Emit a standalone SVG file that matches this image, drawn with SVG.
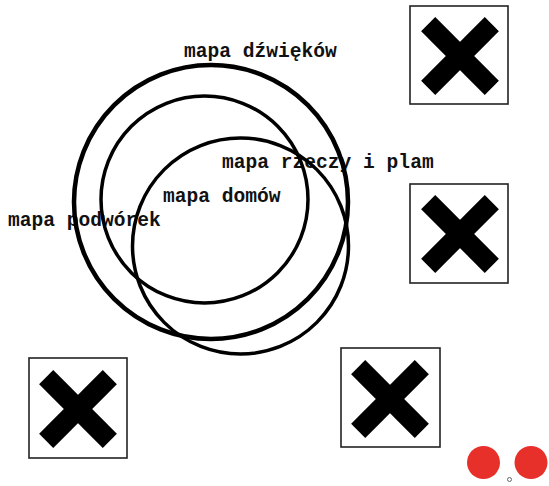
<svg xmlns="http://www.w3.org/2000/svg" xmlns:xlink="http://www.w3.org/1999/xlink" width="549" height="486" viewBox="0 0 549 486">
<style>
.lbl{font-family:"Liberation Mono","Courier New",monospace;font-weight:bold;font-size:19.6px;fill:#111}
.box{fill:#fff;stroke:#222;stroke-width:1.6}
.ring{fill:none;stroke:#000}
.dot{fill:#e8302b}
</style>
<defs>
<g id="xmark">
<rect x="-45" y="-10" width="90" height="20" transform="rotate(45)" fill="#000"/>
<rect x="-45" y="-10" width="90" height="20" transform="rotate(-45)" fill="#000"/>
</g>
</defs>
<rect width="549" height="486" fill="#fff"/>
<g id="labels">
<text class="lbl" x="184" y="57">mapa dźwięków</text>
<text class="lbl" x="222" y="168">mapa rzeczy i plam</text>
<text class="lbl" x="163" y="202">mapa domów</text>
<text class="lbl" x="8" y="226">mapa podwórek</text>
</g>
<g id="connectors">
<circle id="ring-dzwiekow" class="ring" cx="211" cy="202" r="137" stroke-width="4.5"/>
<circle id="ring-domow" class="ring" cx="204.5" cy="199.5" r="103.5" stroke-width="3.5"/>
<circle id="ring-rzeczy" class="ring" cx="240.5" cy="246" r="108" stroke-width="3.5"/>
</g>
<g id="box1"><rect class="box" x="410" y="6" width="98" height="98"/><use xlink:href="#xmark" transform="translate(460,56)"/></g>
<g id="box2"><rect class="box" x="410" y="184" width="98" height="99"/><use xlink:href="#xmark" transform="translate(460,234)"/></g>
<g id="box3"><rect class="box" x="29" y="358" width="98" height="100"/><use xlink:href="#xmark" transform="translate(78,409)"/></g>
<g id="box4"><rect class="box" x="341" y="348" width="99" height="99"/><use xlink:href="#xmark" transform="translate(390,399)"/></g>
<g id="dots">
<circle class="dot" cx="483.5" cy="462.5" r="16.5"/>
<circle class="dot" cx="531" cy="462.5" r="16.5"/>
<circle cx="509.5" cy="479.5" r="2" fill="none" stroke="#666" stroke-width="1"/>
</g>
</svg>
